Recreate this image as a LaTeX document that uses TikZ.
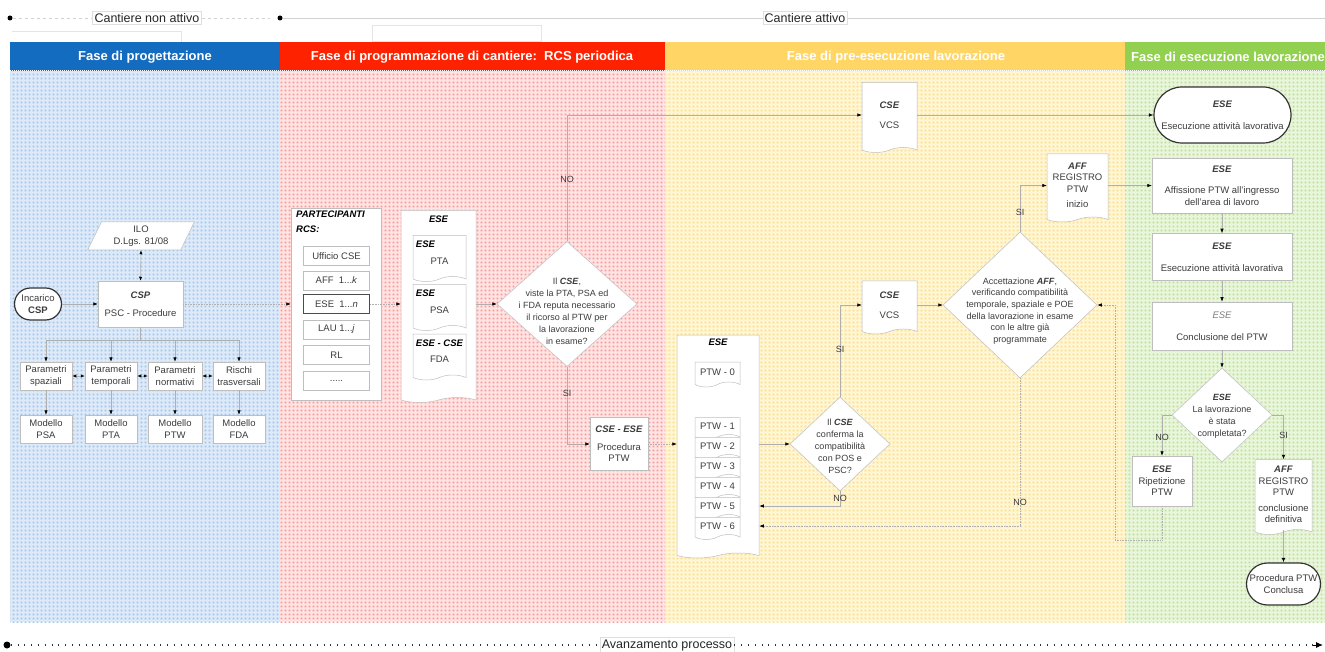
\documentclass[tikz,border=0pt]{standalone}
\usepackage{fontspec}
\setmainfont{Liberation Sans}
\usetikzlibrary{shapes.geometric,shapes.symbols,shapes.misc,arrows.meta,patterns.meta,calc}

\definecolor{hblue}{RGB}{20,108,192}
\definecolor{hred}{RGB}{255,34,0}
\definecolor{hyellow}{RGB}{255,214,102}
\definecolor{hgreen}{RGB}{146,208,80}
\definecolor{bblue}{RGB}{222,234,247}
\definecolor{bred}{RGB}{255,228,228}
\definecolor{byellow}{RGB}{255,246,214}
\definecolor{bgreen}{RGB}{234,245,222}
\definecolor{dblue}{RGB}{160,196,236}
\definecolor{dred}{RGB}{255,150,150}
\definecolor{dyellow}{RGB}{255,222,130}
\definecolor{dgreen}{RGB}{186,224,146}
\definecolor{txt}{RGB}{60,60,60}
\definecolor{edgec}{RGB}{190,190,190}
\definecolor{lnk}{RGB}{175,175,175}

\tikzdeclarepattern{
  name=griddots,
  type=uncolored,
  bounding box={(0pt,0pt) and (4pt,4pt)},
  tile size={(4pt,4pt)},
  code={\fill (0.9pt,0.9pt) rectangle (3.1pt,3.1pt);}
}

\newcommand\nfont{\fontsize{9.5}{11.5}\selectfont}
\newcommand\dfont{\fontsize{9}{12}\selectfont}
\newcommand\ibf[1]{\textbf{\textit{#1}}}

\tikzset{
  box/.style={draw=edgec, fill=white, line width=0.5pt, align=center, font=\nfont, text=txt, inner sep=2pt},
  docbox/.style={box, shape=tape, tape bend top=none, tape bend bottom=in and out, tape bend height=5pt},
  term/.style={box, shape=rounded rectangle, draw=black!80, line width=1.2pt},
  dia/.style={box, shape=diamond, inner sep=0pt},
  diatext/.style={align=center, font=\dfont, text=txt},
  ttlnode/.style={font=\nfont\bfseries\itshape, text=black, inner sep=1pt},
  lbl/.style={font=\fontsize{9}{10}\selectfont, text=txt, inner sep=1pt},
  conn/.style={draw=lnk, line width=0.6pt},
  arr/.style={conn, -{Latex[length=4.5pt,width=3.5pt,color=black]}},
  arrb/.style={conn, {Latex[length=4pt,width=3.2pt,color=black]}-{Latex[length=4pt,width=3.2pt,color=black]}},
  hdr/.style={font=\fontsize{13}{15}\selectfont\bfseries, text=white},
  toplbl/.style={draw=gray!25, fill=white, font=\fontsize{12.5}{14}\selectfont, text=black!85, inner sep=2pt},
  startdot/.style={circle, fill=black, inner sep=0pt, minimum size=5pt},
  axisline/.style={draw=black!80, line width=1.6pt, dash pattern=on 0.8pt off 6pt},
}

\begin{document}
\begin{tikzpicture}[x=1pt,y=-1pt]
\useasboundingbox (0,0) rectangle (1325,652);
\fill[white] (0,0) rectangle (1325,652);

% ---------- backgrounds ----------
\fill[bblue] (10,71) rectangle (280,622);
\fill[pattern={griddots}, pattern color=dblue] (10,71) rectangle (280,622);
\fill[bred] (280,71) rectangle (665,622);
\fill[pattern={griddots}, pattern color=dred] (280,71) rectangle (665,622);
\fill[byellow] (665,71) rectangle (1125,622);
\fill[pattern={griddots}, pattern color=dyellow] (665,71) rectangle (1125,622);
\fill[bgreen] (1125,71) rectangle (1335,622);
\fill[pattern={griddots}, pattern color=dgreen] (1125,71) rectangle (1335,622);

% ---------- headers ----------
\fill[hblue] (10,42) rectangle (280,71);
\fill[hred] (280,42) rectangle (665,71);
\fill[hyellow] (665,42) rectangle (1125,71);
\fill[hgreen] (1125,42) rectangle (1335,71);
\draw[white, line width=1pt, dash pattern=on 1pt off 1pt] (10,71) -- (1325,71);
\node[hdr] (h1) at (145,57) {Fase di progettazione};
\node[hdr] (h2) at (472,57) {Fase di programmazione di cantiere:\ \ RCS periodica};
\node[hdr] (h3) at (896,57) {Fase di pre-esecuzione lavorazione};
\node[hdr] (h4) at (1228,57) {Fase di esecuzione lavorazione};

% ---------- top timeline ----------
\draw[gray!20] (12,31) -- (181,31) -- (181,42);
\draw[gray!20] (372,25) rectangle (541,41);
\node[startdot] (s1) at (10,18) {};
\node[toplbl] (L1) at (147,18) {Cantiere non attivo};
\coordinate (e1) at (270,18);
\draw[gray!35, dashed] (s1) -- (L1.west);
\draw[gray!35, dashed] (L1.east) -- (e1);
\node[startdot] (s2) at (280,18) {};
\node[toplbl] (L2) at (805,18) {Cantiere attivo};
\coordinate (e2) at (1325,18);
\draw[gray!35] (s2) -- (L2.west);
\draw[gray!35] (L2.east) -- (e2);

% ---------- bottom axis ----------
\node[startdot, minimum size=7pt] (s3) at (7,645) {};
\node[toplbl] (L3) at (667,645) {Avanzamento processo};
\coordinate (e3) at (1323,645);
\coordinate (e3b) at (1313,645);
\draw[axisline] (s3) -- (L3.west);
\draw[axisline] (L3.east) -- (e3b);
\draw[black, line width=1pt, -{Latex[length=7pt,width=6pt]}] (e3b) -- (e3);

% ---------- blue section ----------
\node[box, trapezium, trapezium left angle=67, trapezium right angle=113, trapezium stretches=true, minimum width=107, minimum height=28] (ilo) at (141,236) {ILO\\D.Lgs. 81/08};
\node[box, minimum width=85, minimum height=46] (csp) at (140.5,304) {\ibf{CSP}\\[7pt]PSC - Procedure};
\node[term, minimum width=51, minimum height=32] (inc) at (38,304) {Incarico\\\textbf{CSP}};
\node[box, minimum width=52, minimum height=28] (p1) at (46,376) {Parametri\\spaziali};
\node[box, minimum width=52, minimum height=28] (p2) at (111,376) {Parametri\\temporali};
\node[box, minimum width=54, minimum height=28] (p3) at (175,376) {Parametri\\normativi};
\node[box, minimum width=52, minimum height=28] (p4) at (239,376) {Rischi\\trasversali};
\node[box, minimum width=52, minimum height=28] (m1) at (46,429) {Modello\\PSA};
\node[box, minimum width=52, minimum height=28] (m2) at (111,429) {Modello\\PTA};
\node[box, minimum width=54, minimum height=28] (m3) at (175,429) {Modello\\PTW};
\node[box, minimum width=52, minimum height=28] (m4) at (239,429) {Modello\\FDA};

\draw[arrb] (ilo.south) -- (csp.north);
\draw[arr] (inc.east) -- (csp.west);
\foreach \p in {p1,p2,p3,p4} {\draw[arr] (csp.south) -- ++(0,13) -| (\p.north);}
\draw[arrb] (p1.east) -- (p2.west);
\draw[arrb] (p2.east) -- (p3.west);
\draw[arrb] (p3.east) -- (p4.west);
\draw[arr] (p1.south) -- (m1.north);
\draw[arr] (p2.south) -- (m2.north);
\draw[arr] (p3.south) -- (m3.north);
\draw[arr] (p4.south) -- (m4.north);

% ---------- red section ----------
\node[box, minimum width=90, minimum height=192] (part) at (336,304) {};
\node[ttlnode, anchor=north west, align=left] (partt) at (295,210) {PARTECIPANTI\\[3pt]RCS:};
\node[box, minimum width=66, minimum height=19] (r1) at (336.5,256) {Ufficio CSE};
\node[box, minimum width=66, minimum height=19] (r2) at (336.5,280.5) {AFF\ \ 1...\textit{k}};
\node[box, minimum width=66, minimum height=19, draw=black!70, line width=1.1pt] (r3) at (336.5,304) {ESE\ \ 1...\textit{n}};
\node[box, minimum width=66, minimum height=19] (r4) at (336.5,329.5) {LAU 1...\textit{j}};
\node[box, minimum width=66, minimum height=19] (r5) at (336.5,355) {RL};
\node[box, minimum width=66, minimum height=19] (r6) at (336.5,381) {.....};

\node[docbox, minimum width=75, minimum height=192] (edoc) at (438.5,304) {};
\node[ttlnode] (edoct) at (438.5,219) {ESE};
\node[docbox, minimum width=53, minimum height=46] (dpta) at (439.5,256) {};
\node[docbox, minimum width=53, minimum height=46] (dpsa) at (439.5,305) {};
\node[docbox, minimum width=53, minimum height=46] (dfda) at (439.5,354.5) {};
\node[ttlnode, anchor=west] (dptat) at ($(dpta.north west)+(2,9)$) {ESE};
\node[lbl, font=\nfont] (dptal) at ($(dpta.center)+(0,5)$) {PTA};
\node[ttlnode, anchor=west] (dpsat) at ($(dpsa.north west)+(2,9)$) {ESE};
\node[lbl, font=\nfont] (dpsal) at ($(dpsa.center)+(0,5)$) {PSA};
\node[ttlnode, anchor=west] (dfdat) at ($(dfda.north west)+(2,9)$) {ESE - CSE};
\node[lbl, font=\nfont] (dfdal) at ($(dfda.center)+(0,5)$) {FDA};

\draw[arr, densely dotted] (csp.east) -- (csp.east -| part.west);
\draw[arr, densely dotted] (r3.east) -- (r3.east -| edoc.west);

\node[dia, minimum width=140, minimum height=125] (d1) at (567,304) {};
\node[diatext] (d1t) at (567,311) {Il \ibf{CSE},\\viste la PTA, PSA ed\\i FDA reputa necessario\\il ricorso al PTW per\\la lavorazione\\in esame?};
\draw[arr] (edoc.east) -- (d1.west);

\node[box, minimum width=58, minimum height=53] (pproc) at (619,444) {\ibf{CSE - ESE}\\[6pt]Procedura\\PTW};

% ---------- yellow section ----------
\node[docbox, minimum width=55, minimum height=70] (vcs1) at (889.5,115) {\ibf{CSE}\\[9pt]VCS};
\node[docbox, minimum width=55, minimum height=53] (vcs2) at (889.5,305) {\ibf{CSE}\\[8pt]VCS};

\node[docbox, minimum width=82, minimum height=223] (bigdoc) at (718,444) {};
\node[ttlnode] (bigdoct) at (718,342) {ESE};
\node[docbox, minimum width=45, minimum height=25] (ptw0) at (717.5,372) {PTW - 0};
\node[docbox, minimum width=45, minimum height=22] (ptw1) at (717.5,426) {PTW - 1};
\node[docbox, minimum width=45, minimum height=22] (ptw2) at (717.5,446) {PTW - 2};
\node[docbox, minimum width=45, minimum height=22] (ptw3) at (717.5,466) {PTW - 3};
\node[docbox, minimum width=45, minimum height=22] (ptw4) at (717.5,486) {PTW - 4};
\node[docbox, minimum width=45, minimum height=22] (ptw5) at (717.5,506) {PTW - 5};
\node[docbox, minimum width=45, minimum height=22] (ptw6) at (717.5,526) {PTW - 6};

\node[dia, minimum width=100, minimum height=94] (d2) at (840,444) {};
\node[diatext] (d2t) at (840,446) {Il \ibf{CSE}\\conferma la\\compatibilità\\con POS e\\PSC?};

\node[dia, minimum width=154, minimum height=146] (d3) at (1020,305) {};
\node[diatext, font=\fontsize{9}{11.6}\selectfont] (d3t) at (1020,311) {Accettazione \ibf{AFF},\\verificando compatibilità\\temporale, spaziale e POE\\della lavorazione in esame\\con le altre già\\programmate};

\node[docbox, minimum width=61, minimum height=68] (reg1) at (1077.5,185.5) {\ibf{AFF}\\REGISTRO\\PTW\\[4pt]inizio};

% ---------- green section ----------
\node[term, minimum width=141, minimum height=56] (exec1) at (1222.5,115) {\ibf{ESE}\\[11pt]Esecuzione attività lavorativa};
\node[box, minimum width=140, minimum height=55] (aff) at (1222,185.5) {\ibf{ESE}\\[10pt]Affissione PTW all'ingresso\\dell'area di lavoro};
\node[box, minimum width=140, minimum height=47] (exec2) at (1222,257) {\ibf{ESE}\\[11pt]Esecuzione attività lavorativa};
\node[box, minimum width=140, minimum height=48] (concl) at (1222,326) {{\itshape\color{gray}ESE}\\[11pt]Conclusione del PTW};
\node[dia, minimum width=100, minimum height=94] (d4) at (1222,415) {};
\node[diatext] (d4t) at (1222,416) {\ibf{ESE}\\La lavorazione\\è stata\\completata?};
\node[box, minimum width=60, minimum height=50] (rip) at (1162,481) {\ibf{ESE}\\Ripetizione\\PTW};
\node[docbox, minimum width=57, minimum height=75] (reg2) at (1283.5,494.5) {\ibf{AFF}\\REGISTRO\\PTW\\[4pt]conclusione\\definitiva};
\node[term, minimum width=78, minimum height=42] (concl2) at (1283.5,584) {Procedura PTW\\Conclusa};

% ---------- connectors ----------
\draw[arr] (d1.north) |- (vcs1.west) node[lbl, pos=0.245] {NO};
\draw[arr] (d1.south) |- (pproc.west) node[lbl, pos=0.17] {SI};
\draw[arr, densely dotted] (pproc.east) -- (pproc.east -| bigdoc.west);
\draw[arr] (vcs1.east) -- (vcs1.east -| exec1.west);
\draw[arr] (bigdoc.east |- d2.west) -- (d2.west);
\draw[arr] (d2.north) |- (vcs2.west) node[lbl, pos=0.26] {SI};
\draw[arr] (d2.south) |- (bigdoc.east |- ptw5) node[lbl, pos=0.25] {NO};
\draw[arr] (vcs2.east) -- (vcs2.east -| d3.west);
\draw[arr] (d3.north) |- (reg1.west) node[lbl, pos=0.21] {SI};
\draw[arr, densely dotted] (d3.south) |- (bigdoc.east |- ptw6) node[lbl, pos=0.42] {NO};
\draw[arr] (reg1.east) -- (reg1.east -| aff.west);
\draw[arr] (aff.south) -- (exec2.north);
\draw[arr] (exec2.south) -- (concl.north);
\draw[arr] (concl.south) -- (d4.north);
\draw[arr] (d4.west) -| (rip.north) node[lbl, pos=0.77] {NO};
\draw[arr] (d4.east) -| (reg2.north) node[lbl, pos=0.73] {SI};
\draw[arr] (reg2.south) -- (concl2.north);
\coordinate (ret) at (1115,540);
\draw[arr, densely dotted] (rip.south) |- (ret) |- (d3.east);
\end{tikzpicture}
\end{document}
